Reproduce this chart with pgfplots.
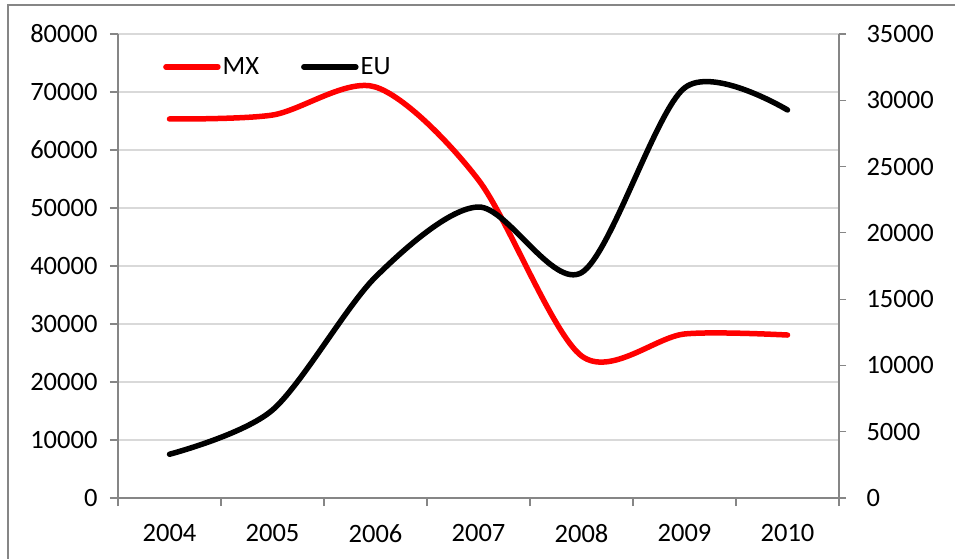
\documentclass[border=0pt]{standalone}
\usepackage{pgfplots}
\pgfplotsset{compat=1.18}
\usepackage{fontspec}
\setmainfont{Carlito}
\definecolor{axisgray}{RGB}{134,134,134}
\definecolor{gridgray}{RGB}{217,217,217}
\definecolor{mxred}{RGB}{255,0,0}

\pgfplotsset{
  chart base/.style={
    scale only axis,
    width=721pt, height=464pt,
    at={(118pt,-498pt)}, anchor=south west,
    xmin=0.5, xmax=7.5,
    tick align=outside,
    axis line style={axisgray, line width=1.2pt},
    every tick/.style={axisgray, line width=1.2pt},
    tick label style={font=\fontsize{26.5}{31}\selectfont, black},
    /pgf/number format/assume math mode=true,
    /pgf/number format/1000 sep={},
    scaled y ticks=false,
    clip=false,
  },
}

\begin{document}
\begin{tikzpicture}
\useasboundingbox (0,0) rectangle (955pt,-559pt);
\draw[axisgray, line width=1.2pt] (8pt,-570pt) -- (8pt,-5pt) -- (970pt,-5pt);

%% left axis: MX
\begin{axis}[
  chart base,
  axis y line*=left, axis x line*=bottom,
  ymin=0, ymax=80000,
  ytick={0,10000,...,80000},
  ymajorgrids, grid style={gridgray, line width=1.2pt},
  xtick={1,...,7},
  xticklabels={2004,2005,2006,2007,2008,2009,2010},
  minor xtick={0.5,1.5,...,7.5},
  major x tick style={draw=none},
  minor tick length=8pt, major tick length=8pt,
  xticklabel style={yshift=-15pt},
  yticklabel style={xshift=-9pt},
  legend style={draw=none, fill=none, at={(0.0624,0.929)}, anchor=west,
    inner sep=0pt, legend columns=2,
    font=\fontsize{26.5}{31}\selectfont,
    nodes={inner xsep=2pt, inner ysep=0pt},
    /tikz/every even column/.append style={column sep=40pt}},
  legend image code/.code={\draw[line width=5.5pt, line cap=round] (0pt,0pt) -- (52pt,0pt);},
]
\addplot[mxred, line width=5.5pt, line cap=round, smooth] coordinates {
  (1,65350) (2,66030) (3,70860) (4,54830) (5,24500) (6,28280) (7,28100)
};
\addlegendentry{MX}
\addlegendimage{black, line width=5.5pt}
\addlegendentry{EU}
\end{axis}

%% right axis: EU
\begin{axis}[
  chart base,
  axis y line*=right, axis x line=none,
  ymin=0, ymax=35000,
  ytick={0,5000,...,35000},
  major tick length=7pt,
  yticklabel style={xshift=17pt},
]
\addplot[black, line width=5.5pt, line cap=round, smooth] coordinates {
  (1,3300) (2,6640) (3,16670) (4,21950) (5,17000) (6,30930) (7,29270)
};
\end{axis}
\end{tikzpicture}
\end{document}
